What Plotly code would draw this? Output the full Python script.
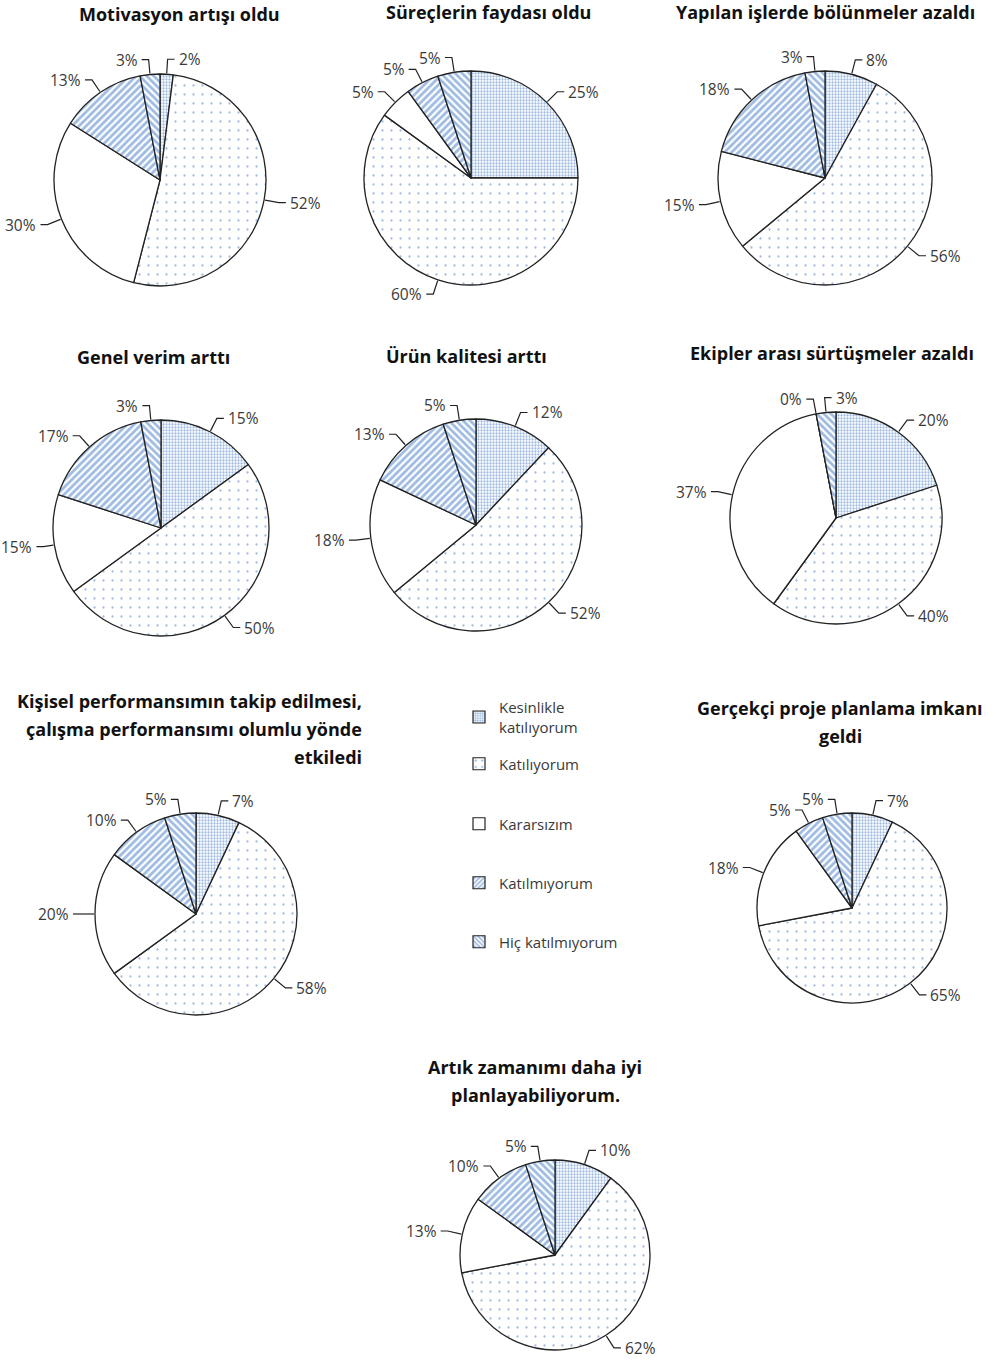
import math
import plotly.graph_objects as go

W, H = 1008, 1371

categories = ["Kesinlikle katılıyorum", "Katılıyorum", "Kararsızım", "Katılmıyorum", "Hiç katılmıyorum"]
legend_labels = ["Kesinlikle<br>katılıyorum", "Katılıyorum", "Kararsızım", "Katılmıyorum", "Hiç katılmıyorum"]

titles = [
    "Motivasyon artışı oldu",
    "Süreçlerin faydası oldu",
    "Yapılan işlerde bölünmeler azaldı",
    "Genel verim arttı",
    "Ürün kalitesi arttı",
    "Ekipler arası sürtüşmeler azaldı",
    "Kişisel performansımın takip edilmesi,<br>çalışma performansımı olumlu yönde<br>etkiledi",
    "Gerçekçi proje planlama imkanı<br>geldi",
    "Artık zamanımı daha iyi<br>planlayabiliyorum.",
]

motivasyon = [2, 52, 30, 13, 3]
surecler = [25, 60, 5, 5, 5]
bolunmeler = [8, 56, 15, 18, 3]
verim = [15, 50, 15, 17, 3]
kalite = [12, 52, 18, 13, 5]
surtusme = [20, 40, 37, 0, 3]
performans = [7, 58, 20, 10, 5]
planlama = [7, 65, 18, 5, 5]
zaman = [10, 62, 13, 10, 5]

series = [motivasyon, surecler, bolunmeler, verim, kalite, surtusme, performans, planlama, zaman]

# ---- layout geometry (pixels) ----
pies = [  # cx, cy, r
    (160, 180, 106), (471, 178, 107), (825, 178, 107),
    (161, 528, 108), (476, 525, 106), (836, 518, 106),
    (196, 914, 101), (852, 908, 95), (555, 1255, 95),
]
title_pos = [  # x, y of first line center, xanchor
    (179, 14, "center"), (488, 12, "center"), (825, 12, "center"),
    (153, 357, "center"), (466, 356, "center"), (832, 353, "center"),
    (364, 701, "right"), (840, 708, "center"), (535, 1067, "center"),
]
TITLE_LINE = 28

TFONT = "'Open Sans', Lato, sans-serif"
LFONT = "'Open Sans', Lato, sans-serif"
BLUE = "#3f78c4"
patt = dict(
    shape=[".", ".", "", "/", "\\"],
    fgcolor=[BLUE, BLUE, BLUE, BLUE, BLUE],
    bgcolor=["white"] * 5,
    size=[3, 9, 8, 5, 5],
    solidity=[0.45, 0.05, 0.0, 0.55, 0.55],
    fillmode="overlay",
)

fig = go.Figure()
shapes = []
annotations = []

def px(x, y):
    return x / W, 1 - y / H

for vals, (cx, cy, r) in zip(series, pies):
    fig.add_trace(go.Pie(
        labels=categories, values=vals, sort=False, direction="clockwise", rotation=0,
        textinfo="none", hoverinfo="label+percent", showlegend=False,
        domain=dict(x=[(cx - r) / W, (cx + r) / W], y=[1 - (cy + r) / H, 1 - (cy - r) / H]),
        marker=dict(colors=["white"] * 5, line=dict(color="#222", width=1.3), pattern=patt),
    ))
    total = sum(vals)
    cum = 0
    boxes = []
    for v in vals:
        th = 2 * math.pi * (cum + v / 2) / total
        cum += v
        s, c = math.sin(th), -math.cos(th)
        txt = f"{v}%"
        tw = 10 * len(txt)
        side = 1 if s >= 0 else -1
        ext, seg, gap = 15, 7, 9
        # keep label inside the page
        for _ in range(12):
            xl = cx + (r + ext) * s + side * gap
            lo, hi = (xl, xl + tw) if side > 0 else (xl - tw, xl)
            if lo >= 3 and hi <= W - 3:
                break
            if ext > 6:
                ext -= 2
            else:
                seg, gap = max(seg - 1, 3), max(gap - 1, 5)
        x0, y0 = cx + (r + 1) * s, cy + (r + 1) * c
        x1, y1 = cx + (r + ext) * s, cy + (r + ext) * c
        for attempt in range(2):
            tx = x1 + side * gap
            bx0, bx1 = (tx, tx + tw) if side > 0 else (tx - tw, tx)
            clash = any(not (bx1 < a0 or bx0 > a1 or abs(y1 - yy) > 16) for a0, a1, yy in boxes)
            if not clash:
                break
            side = -side
        boxes.append((bx0, bx1, y1))
        x2 = x1 + side * seg
        p0, p1, p2 = px(x0, y0), px(x1, y1), px(x2, y1)
        shapes.append(dict(type="path", xref="paper", yref="paper",
                           path=f"M {p0[0]},{p0[1]} L {p1[0]},{p1[1]} L {p2[0]},{p2[1]}",
                           line=dict(color="#222", width=1.2)))
        ax, ay = px(tx, y1)
        annotations.append(dict(x=ax, y=ay, xref="paper", yref="paper", text=txt, showarrow=False,
                                xanchor="left" if side > 0 else "right", yanchor="middle",
                                font=dict(family=LFONT, size=15.5, color="#3a3a3a")))

for t, (x, y, xa) in zip(titles, title_pos):
    for k, line in enumerate(t.split("<br>")):
        ax, ay = px(x, y + k * TITLE_LINE)
        annotations.append(dict(x=ax, y=ay, xref="paper", yref="paper", text=f"<b>{line}</b>",
                                showarrow=False, xanchor=xa, yanchor="middle",
                                font=dict(family=TFONT, size=18, color="#111")))

# legend via dummy bars (placed outside the hidden axis range), each in its own legend
leg_y = [717, 764, 824, 883, 942]
legend_names = ["legend", "legend2", "legend3", "legend4", "legend5"]
for i, (lab, ln) in enumerate(zip(legend_labels, legend_names)):
    fig.add_trace(go.Bar(
        x=[0], y=[1], name=lab, legend=ln, showlegend=True, hoverinfo="skip",
        marker=dict(color="white", line=dict(color="#222", width=1.2),
                    pattern=dict(shape=patt["shape"][i], fgcolor=BLUE, bgcolor="white",
                                 size=[3, 8, 8, 4, 4][i],
                                 solidity=[0.5, 0.1, 0.0, 0.55, 0.55][i])),
    ))

lay = {}
for ln, y in zip(legend_names, leg_y):
    lay[ln] = dict(x=459 / W, y=1 - y / H, xanchor="left", yanchor="middle",
                   bgcolor="rgba(0,0,0,0)", itemwidth=30,
                   font=dict(family=LFONT, size=15, color="#3a3a3a"))

fig.update_layout(
    width=W, height=H, margin=dict(l=0, r=0, t=0, b=0),
    paper_bgcolor="white", plot_bgcolor="white",
    xaxis=dict(visible=False, range=[10, 11], fixedrange=True),
    yaxis=dict(visible=False, range=[10, 11], fixedrange=True),
    shapes=shapes, annotations=annotations, **lay,
)

fig.write_html("out.html")
